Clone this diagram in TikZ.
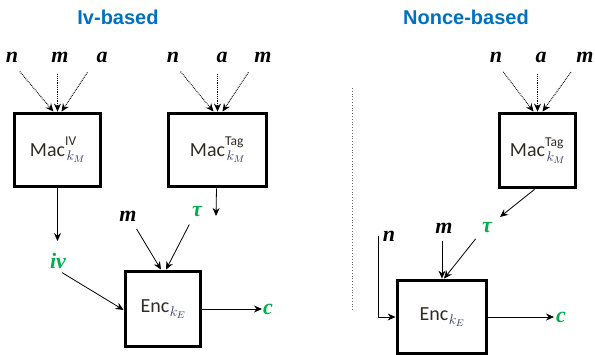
\documentclass[tikz,border=0pt]{standalone}
\usepackage{fix-cm}
\usepackage{fontspec}
\setmainfont{Liberation Serif}
\newfontfamily\titlefont{Liberation Sans}
\newfontfamily\macfont{Carlito}
\usetikzlibrary{arrows.meta}
\definecolor{ttlblue}{RGB}{0,112,192}
\definecolor{lblgreen}{RGB}{0,176,80}
\definecolor{boxtext}{RGB}{50,44,38}
\definecolor{subblue}{RGB}{40,50,100}
\newcommand\boxlbl[2]{{\macfont\fontsize{20}{23}\selectfont\color{boxtext}#1\rlap{\raisebox{10.5pt}{\fontsize{13.5}{14}\selectfont #2}}\kern1.5pt\raisebox{-4.5pt}{\fontsize{14}{15}\selectfont$\color{subblue}k_M$}}}
\newcommand\enclbl{{\macfont\fontsize{20}{23}\selectfont\color{boxtext}Enc\kern0.5pt\raisebox{-3.5pt}{\fontsize{14}{15}\selectfont$\color{subblue}k_E$}}}
\begin{document}
\begin{tikzpicture}[x=1pt,y=-1pt,
  title/.style={font=\titlefont\bfseries\fontsize{20}{24}\selectfont, text=ttlblue},
  var/.style={font=\bfseries\itshape\fontsize{22}{24}\selectfont, inner sep=0pt},
  gvar/.style={var, text=lblgreen},
  blk/.style={draw, line width=3.8pt, fill=white, inner sep=0pt},
  arr/.style={-{Stealth[length=8pt,width=7pt]}, line width=0.8pt},
  darr/.style={arr, densely dotted, line width=1pt},
  sepline/.style={dotted, line width=0.8pt, gray!80!black}
]
\useasboundingbox (0,0) rectangle (595,355);
% titles
\node[title] (t1) at (118,17) {Iv-based};
\node[title] (t2) at (466,17) {Nonce-based};
% ---------- Iv-based ----------
\node[blk, minimum width=86pt, minimum height=73pt] (mac1) at (57.5,150) {\boxlbl{Mac}{IV}};
\node[blk, minimum width=98pt, minimum height=73pt] (mac2) at (217.5,150) {\boxlbl{Mac}{Tag}};
\node[blk, minimum width=75pt, minimum height=75pt] (enc1) at (163,309) {\enclbl};
\node[var] (n1) at (12,57) {n};
\node[var] (m1) at (60,57) {m};
\node[var] (a1) at (102,57) {a};
\node[var] (n2) at (173,57) {n};
\node[var] (a2) at (222,57) {a};
\node[var] (m2) at (263,57) {m};
\node[gvar] (iv1) at (58,261) {iv};
\node[gvar] (tau1) at (197,212) {τ};
\node[var] (m3) at (128,216) {m};
\node[gvar] (c1) at (268,309) {c};
\coordinate (tau1in) at (216,216);
\draw[darr, shorten <=12pt] (n1.south) -- ([xshift=-4pt]mac1.north);
\draw[darr, shorten <=12pt] (m1.south -| mac1.north) -- (mac1.north);
\draw[darr, shorten <=12pt] ([xshift=-8pt]a1.south) -- ([xshift=4pt]mac1.north);
\draw[darr, shorten <=12pt] (n2.south) -- ([xshift=-4pt]mac2.north);
\draw[darr, shorten <=12pt] (a2.south -| mac2.north) -- (mac2.north);
\draw[darr, shorten <=12pt] ([xshift=-8pt]m2.south) -- ([xshift=5pt]mac2.north);
\draw[arr, shorten >=12pt] (mac1.south) -- (mac1.south |- iv1.north);
\draw[arr] ([xshift=-1pt]mac2.south) -- (tau1in);
\draw[arr, shorten <=9pt] ([xshift=4pt]m3.south) -- ([xshift=-2pt]enc1.north);
\draw[arr, shorten <=8pt] ([xshift=-4pt]tau1.south) -- ([xshift=3pt]enc1.north);
\draw[arr, shorten <=7pt] ([xshift=-2pt]iv1.south) -- ([yshift=-1pt]enc1.west);
\draw[arr, shorten >=13pt] (enc1.east) -- (c1.west -| 275,0) ;
% separator
\coordinate (s1) at (352,88);
\coordinate (s2) at (352,311);
\draw[sepline] (s1) -- (s2);
% ---------- Nonce-based ----------
\node[blk, minimum width=76pt, minimum height=74pt] (mac3) at (537.5,150.5) {\boxlbl{Mac}{Tag}};
\node[blk, minimum width=89pt, minimum height=73pt] (enc2) at (442,317) {\enclbl};
\node[var] (n3) at (496,57) {n};
\node[var] (a3) at (541,57) {a};
\node[var] (m4) at (585,57) {m};
\node[gvar] (tau2) at (487,228) {τ};
\node[var] (m5) at (444,228) {m};
\node[var] (n4) at (389,236) {n};
\node[gvar] (c2) at (561,317) {c};
\coordinate (tau2in) at (500,217);
\draw[darr, shorten <=12pt] (n3.south) -- ([xshift=-4pt]mac3.north);
\draw[darr, shorten <=12pt] (a3.south -| mac3.north) -- (mac3.north);
\draw[darr, shorten <=12pt] ([xshift=-7pt]m4.south) -- ([xshift=5pt]mac3.north);
\draw[arr] ([xshift=-3pt]mac3.south) -- (tau2in);
\draw[arr, shorten <=8pt] ([xshift=-2pt]m5.south) -- ([xshift=-2pt]m5.south |- enc2.north);
\draw[arr, shorten <=7pt] ([xshift=-7pt]tau2.south) -- ([xshift=2pt]enc2.north);
\draw[arr] ([xshift=-11pt,yshift=5pt]n4.south) |- (enc2.west);
\draw[arr, shorten >=14pt] (enc2.east) -- (c2.west -| 568,0);
\end{tikzpicture}
\end{document}
